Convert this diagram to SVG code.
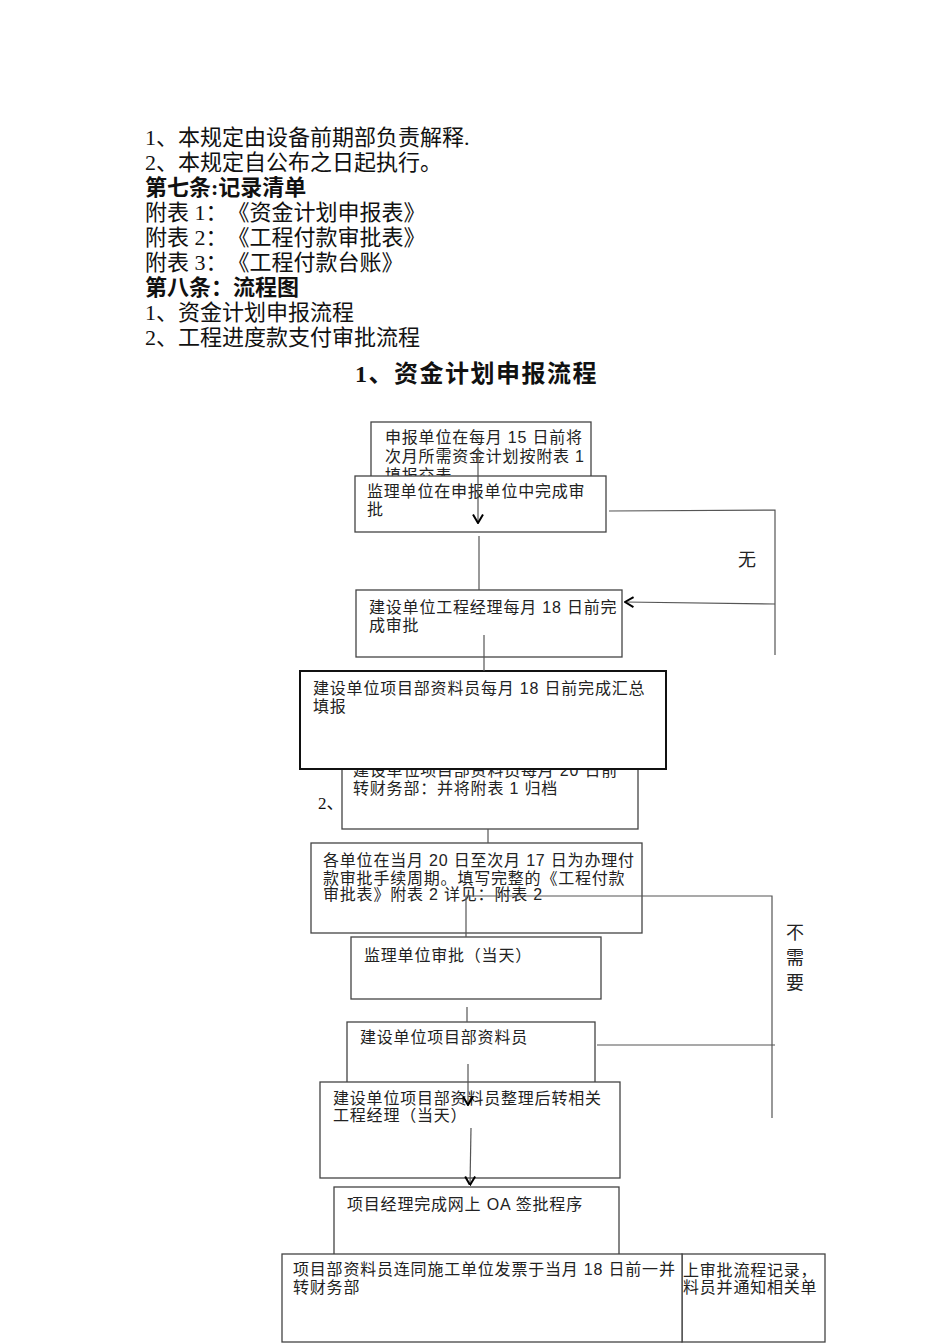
<svg xmlns="http://www.w3.org/2000/svg" width="950" height="1344" viewBox="0 0 950 1344">
<style>
text{text-spacing-trim:space-all}
.doc{font-family:"Liberation Serif","Noto Sans CJK SC",serif;font-size:22px;fill:#111}
.bold{font-weight:bold}
.title{font-family:"Liberation Serif","Noto Sans CJK SC",serif;font-size:24px;font-weight:bold;letter-spacing:1.5px;fill:#111}
.bt{font-family:"Liberation Sans","Noto Sans CJK SC",sans-serif;font-size:16px;letter-spacing:0.8px;fill:#222}
.box{fill:#fff;stroke:#444;stroke-width:1.3}
.boxd{fill:#fff;stroke:#111;stroke-width:2}
.ln{fill:none;stroke:#555;stroke-width:1.2}
.lbl{font-family:"Liberation Serif","Noto Sans CJK SC",serif;font-size:18px;fill:#222}
</style>
<defs>
<marker id="chev" viewBox="0 0 10 12" refX="9.5" refY="6" markerWidth="10" markerHeight="12" markerUnits="userSpaceOnUse" orient="auto">
<path d="M1,1 L9.5,6 L1,11" fill="none" stroke="#000" stroke-width="2"/>
</marker>
</defs>
<rect width="950" height="1344" fill="#fff"/>

<g id="doc-text">
<text class="doc" x="145" y="145">1、本规定由设备前期部负责解释.</text>
<text class="doc" x="145" y="170">2、本规定自公布之日起执行。</text>
<text class="doc bold" x="145" y="195">第七条:记录清单</text>
<text class="doc" x="145" y="220">附表 1：《资金计划申报表》</text>
<text class="doc" x="145" y="245">附表 2：《工程付款审批表》</text>
<text class="doc" x="145" y="270">附表 3：《工程付款台账》</text>
<text class="doc bold" x="145" y="295">第八条：流程图</text>
<text class="doc" x="145" y="320">1、资金计划申报流程</text>
<text class="doc" x="145" y="345">2、工程进度款支付审批流程</text>
<text class="title" x="355" y="382">1、资金计划申报流程</text>
</g>

<g id="node-a">
<rect class="box" x="371" y="422" width="220" height="60"/>
<text class="bt" x="385" y="443">申报单位在每月 15 日前将</text>
<text class="bt" x="385" y="462">次月所需资金计划按附表 1</text>
<text class="bt" x="385" y="481">填报交表</text>
</g>
<g id="node-b">
<rect class="box" x="355" y="476" width="251" height="56"/>
<text class="bt" x="367" y="497">监理单位在申报单位中完成审</text>
<text class="bt" x="367" y="515">批</text>
</g>
<g id="node-c">
<rect class="box" x="356" y="590" width="266" height="67"/>
<text class="bt" x="369" y="613">建设单位工程经理每月 18 日前完</text>
<text class="bt" x="369" y="631">成审批</text>
</g>
<g id="node-e">
<rect class="box" x="342" y="740" width="296" height="89"/>
<text class="bt" x="353" y="776">建设单位项目部资料员每月 20 日前</text>
<text class="bt" x="353" y="794">转财务部：并将附表 1 归档</text>
</g>
<text id="stray-2" class="doc" style="font-size:17px" x="318" y="809">2、</text>
<g id="node-d">
<rect class="boxd" x="300" y="671" width="366" height="98"/>
<text class="bt" x="313" y="694">建设单位项目部资料员每月 18 日前完成汇总</text>
<text class="bt" x="313" y="712">填报</text>
</g>
<g id="node-f">
<rect class="box" x="311" y="843" width="331" height="90"/>
<text class="bt" x="323" y="866">各单位在当月 20 日至次月 17 日为办理付</text>
<text class="bt" x="323" y="884">款审批手续周期。填写完整的《工程付款</text>
<text class="bt" x="323" y="900">审批表》附表 2 详见：附表 2</text>
</g>
<g id="node-g">
<rect class="box" x="351" y="937" width="250" height="62"/>
<text class="bt" x="364" y="961">监理单位审批（当天）</text>
</g>
<g id="node-h">
<rect class="box" x="347" y="1022" width="248" height="70"/>
<text class="bt" x="360" y="1043">建设单位项目部资料员</text>
</g>
<g id="node-i">
<rect class="box" x="320" y="1082" width="300" height="96"/>
<text class="bt" x="333" y="1104">建设单位项目部资料员整理后转相关</text>
<text class="bt" x="333" y="1121">工程经理（当天）</text>
</g>
<g id="node-j">
<rect class="box" x="334" y="1187" width="285" height="80"/>
<text class="bt" x="347" y="1210">项目经理完成网上 OA 签批程序</text>
</g>
<g id="node-l">
<rect class="box" x="682" y="1254" width="143" height="88"/>
<text class="bt" x="683" y="1276">上审批流程记录，</text>
<text class="bt" x="683" y="1293">料员并通知相关单</text>
</g>
<g id="node-k">
<rect class="box" x="282" y="1254" width="400" height="88"/>
<text class="bt" x="293" y="1275">项目部资料员连同施工单位发票于当月 18 日前一并</text>
<text class="bt" x="293" y="1293">转财务部</text>
</g>

<g id="connectors">
<line class="ln" x1="478" y1="447" x2="478" y2="523" marker-end="url(#chev)"/>
<line class="ln" x1="479" y1="536" x2="479" y2="590"/>
<polyline class="ln" points="609,511 775,510 775,655"/>
<line class="ln" x1="775" y1="604" x2="625" y2="602" marker-end="url(#chev)"/>
<line class="ln" x1="484" y1="635" x2="484" y2="671"/>
<line class="ln" x1="488" y1="829" x2="488" y2="843"/>
<polyline class="ln" points="466,937 466,896 772,896 772,1118"/>
<line class="ln" x1="467" y1="1007" x2="467" y2="1022"/>
<line class="ln" x1="597" y1="1045" x2="775" y2="1045"/>
<line class="ln" x1="468" y1="1064" x2="468" y2="1105" marker-end="url(#chev)"/>
<line class="ln" x1="471" y1="1128" x2="470" y2="1185" marker-end="url(#chev)"/>
</g>

<g id="labels">
<text class="lbl" x="738" y="566">无</text>
<text class="lbl" x="786" y="939">不</text>
<text class="lbl" x="786" y="964">需</text>
<text class="lbl" x="786" y="989">要</text>
</g>
</svg>
